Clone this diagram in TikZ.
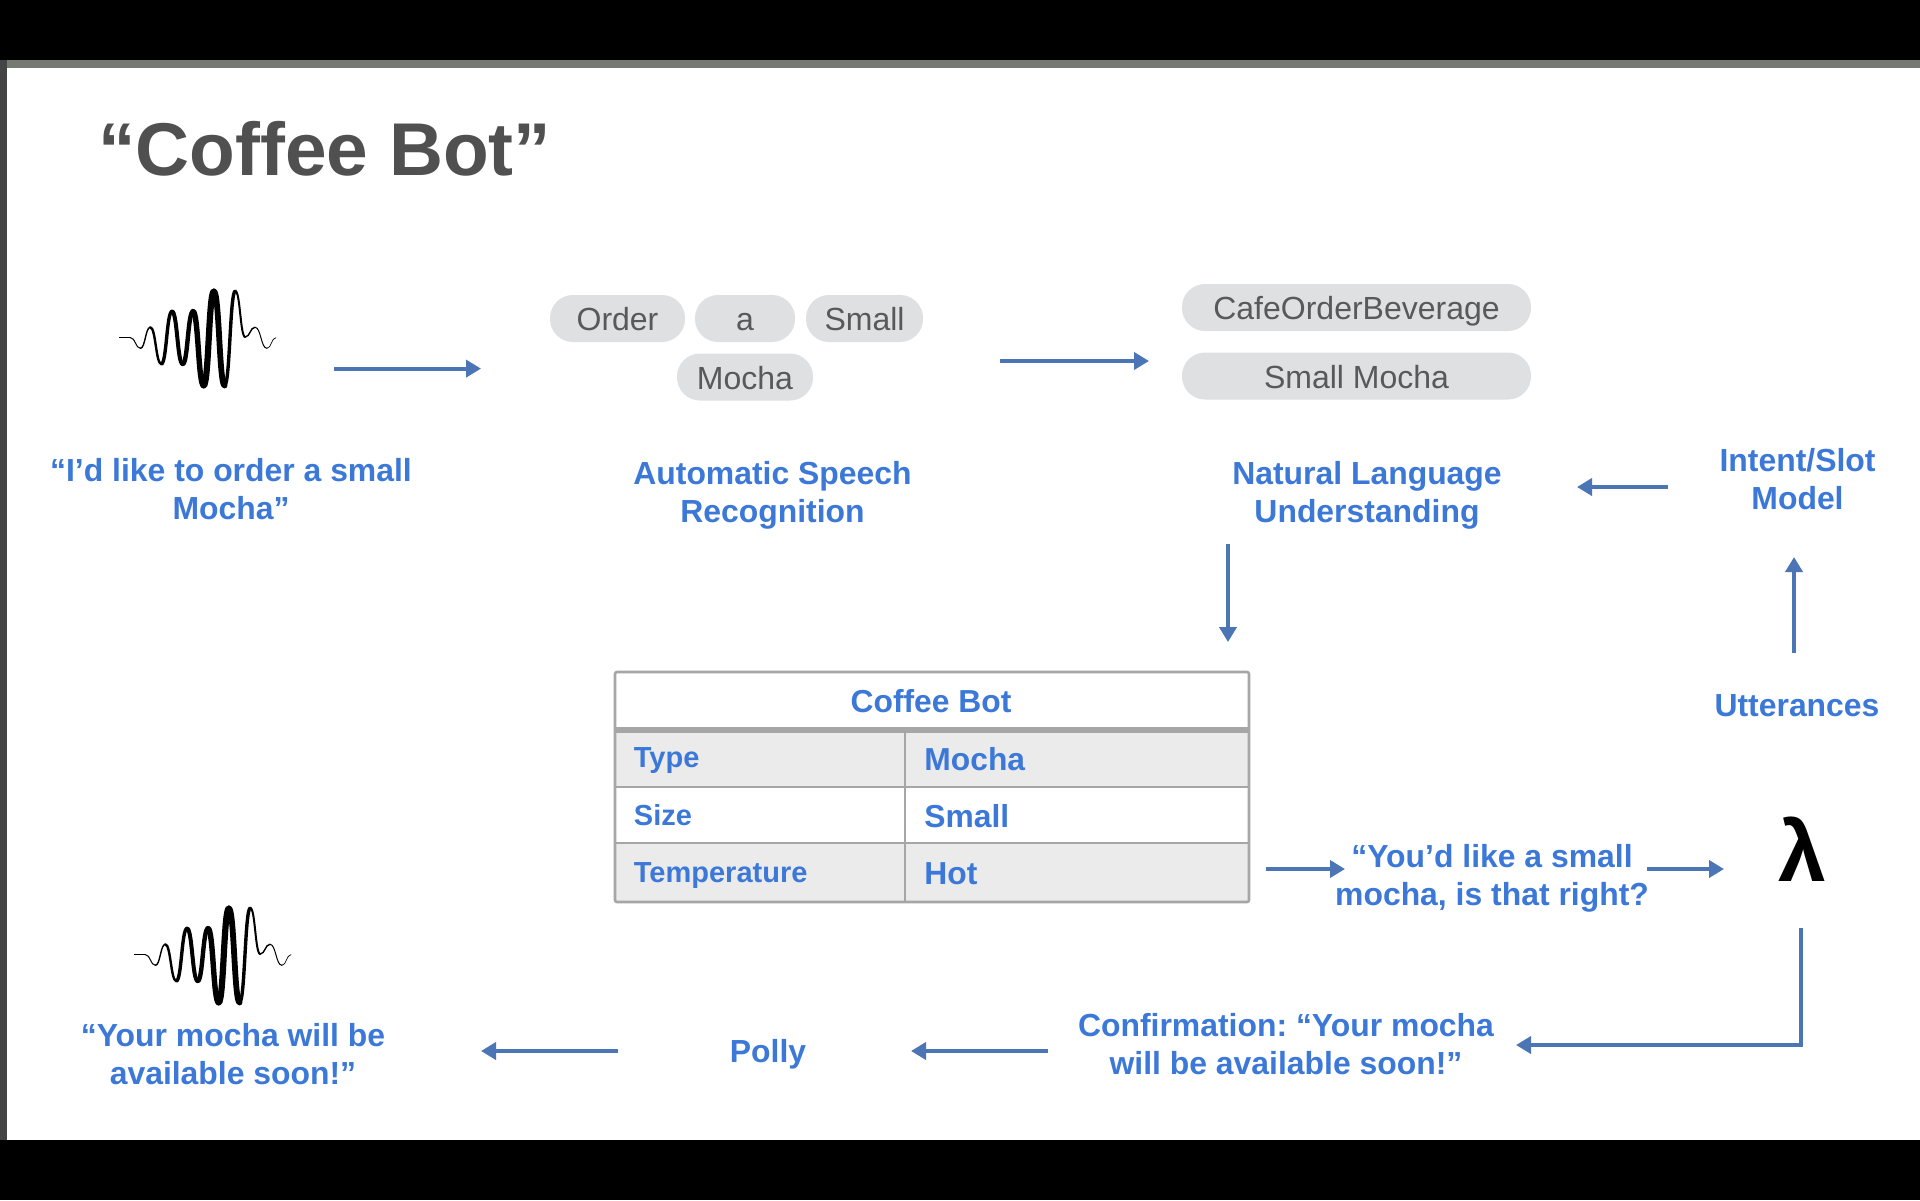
\documentclass[tikz,border=0pt]{standalone}
\usepackage{fontspec}
\setmainfont{Liberation Sans}
\newfontfamily\lamfont{Liberation Sans}
\usetikzlibrary{arrows.meta}
\frenchspacing
\definecolor{lblue}{HTML}{3C78D8}
\definecolor{arrowblue}{HTML}{4C75B6}
\definecolor{pillgrey}{HTML}{DFE0E2}
\definecolor{pilltext}{HTML}{595959}
\definecolor{titlegrey}{HTML}{505050}
\definecolor{rowgrey}{HTML}{EBEBEB}
\definecolor{tabline}{HTML}{A6A6A6}
\definecolor{barside}{HTML}{444444}
\definecolor{bartop}{HTML}{757A72}
\tikzset{
  lbl/.style={text=lblue,font=\fontsize{15.95}{19}\selectfont\bfseries,align=center,inner sep=0pt},
  pill/.style={draw=none,fill=pillgrey,rounded corners=11.5pt,text=pilltext,font=\fontsize{16}{19}\selectfont,inner sep=0pt,minimum height=23.5pt,text height=13pt,text depth=1pt},
  flow/.style={draw=arrowblue,line width=2.1pt,-{Triangle[length=7.5pt,width=8.5pt]}},
  celltext/.style={text=lblue,font=\fontsize{15.9}{19}\selectfont\bfseries,inner sep=0pt,anchor=base west},
  keytext/.style={text=lblue,font=\fontsize{14.5}{17}\selectfont\bfseries,inner sep=0pt,anchor=base west},
  tabrule/.style={draw=tabline,line width=1.3pt},
  soundwave/.pic={
    \foreach \xa/\ya/\xb/\yb/\w in {
      119.4/337.7/130.5/337.7/0.4,
      130.5/337.7/140.4/348.3/0.5,
      140.4/348.3/150.3/327.3/0.7,
      150.3/327.3/161.3/364/1.2,
      161.3/364/172/311.5/1.7,
      172/311.5/182.7/364/2.0,
      182.7/364/193/311.5/2.2,
      193/311.5/203.6/385.5/2.7,
      203.6/385.5/213.9/291.5/3.1,
      213.9/291.5/224.6/385.5/2.9,
      224.6/385.5/235.3/291/1.7,
      235.3/291/245.2/337/1.0,
      245.2/337/255/327.3/0.7,
      255/327.3/266.9/348.3/0.5,
      266.9/348.3/276/337.7/0.35}{
      \draw[black,line width=\w pt,line cap=round]
        (\xa,\ya) .. controls ({\xa+0.5*(\xb-\xa)},\ya) and ({\xb-0.5*(\xb-\xa)},\yb) .. (\xb,\yb);
    }
  }
}
\begin{document}
\begin{tikzpicture}[x=0.5pt,y=-0.5pt]
\useasboundingbox (0,0) rectangle (1920,1200);
\fill[black] (0,0) rectangle (1920,1200);
\fill[white] (7,68) rectangle (1920,1140);
\fill[bartop] (7,60) rectangle (1920,68);
\fill[barside] (0,60) rectangle (7,1140);
% title
\node[text=titlegrey,font=\fontsize{37.4}{44}\selectfont\bfseries,inner sep=0pt,anchor=base west] (title) at (98,175) {“Coffee Bot”};
% waves
\pic at (0,0) {soundwave};
\pic at (15,617) {soundwave};
% pills
\node[pill,minimum width=67.5pt] (order) at (617.5,318.5) {Order};
\node[pill,minimum width=50pt] (wa) at (745,318.5) {a};
\node[pill,minimum width=58.5pt] (small) at (864.5,318.5) {Small};
\node[pill,minimum width=68pt] (mocha) at (745,377) {Mocha};
\node[pill,minimum width=174.5pt] (cafe) at (1356.5,307.5) {CafeOrderBeverage};
\node[pill,minimum width=174.5pt] (smallmocha) at (1356.5,376) {Small Mocha};
% labels
\node[lbl] (said) at (231,489) {“I’d like to order a small\\Mocha”};
\node[lbl] (asr) at (772.5,495.5) {Automatic Speech\\Recognition};
\node[lbl] (nlu) at (1367,495.5) {Natural Language\\Understanding};
\node[lbl] (model) at (1797.5,479) {Intent/Slot\\Model};
\node[lbl] (utter) at (1797,706) {Utterances};
\node[lbl] (right) at (1492,878.5) {“You’d like a small\\mocha, is that right?};
\node[text=black,font=\lamfont\fontsize{43}{50}\selectfont\bfseries,inner sep=0pt] (lambda) at (1802,849) {λ};
\node[lbl] (confirm) at (1286,1044) {Confirmation: “Your mocha\\will be available soon!”};
\node[lbl] (polly) at (768,1054) {Polly};
\node[lbl] (reply) at (233,1054) {“Your mocha will be\\available soon!”};
% table
\fill[rowgrey] (615,730) rectangle (1249,787);
\fill[rowgrey] (615,843) rectangle (1249,902);
\draw[tabrule,rounded corners=1pt] (615,672) rectangle (1249,902);
\draw[draw=tabline,line width=2.6pt] (615,730) -- (1249,730);
\draw[tabrule] (615,787) -- (1249,787);
\draw[tabrule] (615,843) -- (1249,843);
\draw[tabrule] (905,730) -- (905,902);
\node[text=lblue,font=\fontsize{15.9}{19}\selectfont\bfseries,inner sep=0pt,anchor=base] (tabhead) at (931,712) {Coffee Bot};
\node[keytext] (ktype) at (633.5,767) {Type};
\node[celltext] (vtype) at (924,770) {Mocha};
\node[keytext] (ksize) at (633.5,825) {Size};
\node[celltext] (vsize) at (924,827) {Small};
\node[keytext] (ktemp) at (633.5,882) {Temperature};
\node[celltext] (vtemp) at (924,884) {Hot};
% connector ends
\coordinate (s1) at (334,368.6); \coordinate (e1) at (481,368.6);
\coordinate (s2) at (1000,361); \coordinate (e2) at (1149,361);
\coordinate (s3) at (1668,487); \coordinate (e3) at (1577,487);
\coordinate (s4) at (1228,544); \coordinate (e4) at (1228,642);
\coordinate (s5) at (1794,653); \coordinate (e5) at (1794,557);
\coordinate (s6) at (1266,869); \coordinate (e6) at (1345,869);
\coordinate (s7) at (1647,869); \coordinate (e7) at (1724,869);
\coordinate (s8) at (1801,928); \coordinate (c8) at (1801,1045); \coordinate (e8) at (1516,1045);
\coordinate (s9) at (1048,1051); \coordinate (e9) at (911,1051);
\coordinate (s10) at (618,1051); \coordinate (e10) at (481,1051);
\draw[flow] (s1) -- (e1);
\draw[flow] (s2) -- (e2);
\draw[flow] (s3) -- (e3);
\draw[flow] (s4) -- (e4);
\draw[flow] (s5) -- (e5);
\draw[flow] (s6) -- (e6);
\draw[flow] (s7) -- (e7);
\draw[flow] (s8) -- (c8) -- (e8);
\draw[flow] (s9) -- (e9);
\draw[flow] (s10) -- (e10);
\end{tikzpicture}
\end{document}
